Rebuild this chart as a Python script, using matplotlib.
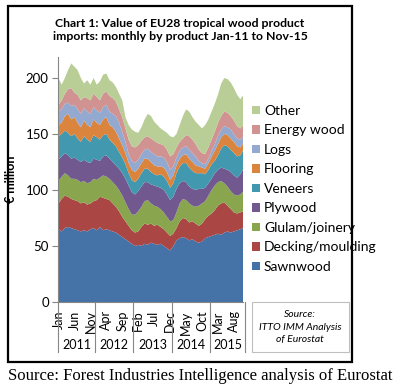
import matplotlib
matplotlib.use("Agg")
import matplotlib.pyplot as plt
from matplotlib.patches import Rectangle, Patch

plt.rcParams['font.family'] = ['Lato', 'DejaVu Sans']

# monthly values, EUR million, Jan 2011 .. Nov 2015
month_names = ['Jan', 'Feb', 'Mar', 'Apr', 'May', 'Jun', 'Jul', 'Aug', 'Sep', 'Oct', 'Nov', 'Dec']
years = ['2011', '2012', '2013', '2014', '2015']

sawnwood = [65, 63, 66, 67, 66, 65, 64, 63, 64, 63, 65, 66,
            64, 67, 64, 65, 64, 63, 62, 60, 58, 56, 54, 52,
            50, 51, 50, 52, 51, 53, 52, 51, 52, 50, 48, 46,
            50, 55, 57, 58, 57, 55, 56, 54, 53, 54, 57, 58,
            59, 60, 61, 60, 62, 63, 62, 63, 64, 65, 66]
decking = [23, 29, 29, 27, 26, 26, 26, 25, 25, 24, 23, 24,
           27, 27, 29, 27, 27, 25, 23, 21, 18, 16, 14, 12,
           12, 12, 17, 18, 18, 17, 16, 18, 15, 15, 14, 13,
           11, 11, 15, 17, 17, 16, 16, 16, 15, 16, 17, 19,
           20, 22, 25, 28, 27, 23, 21, 17, 15, 15, 15]
glulam = [20, 20, 20, 19, 18, 19, 19, 19, 19, 19, 19, 20,
          18, 17, 20, 20, 19, 19, 19, 19, 19, 17, 15, 14,
          16, 18, 18, 20, 22, 18, 18, 16, 16, 15, 14, 13,
          12, 14, 16, 17, 17, 17, 14, 15, 18, 18, 16, 18,
          21, 22, 21, 20, 17, 17, 16, 16, 16, 16, 18]
plywood = [19, 18, 18, 18, 18, 19, 18, 18, 19, 19, 17, 18,
           18, 15, 17, 19, 18, 18, 18, 19, 20, 21, 21, 20,
           18, 18, 18, 17, 16, 17, 18, 18, 19, 20, 20, 19,
           21, 21, 18, 16, 16, 15, 15, 15, 15, 13, 12, 11,
           10, 11, 11, 12, 13, 15, 17, 17, 16, 18, 20]
veneers = [21, 20, 20, 20, 20, 21, 19, 18, 21, 20, 19, 21,
           20, 19, 19, 19, 17, 17, 17, 15, 14, 13, 11, 11,
           11, 11, 12, 12, 12, 11, 10, 10, 12, 12, 12, 11,
           12, 14, 15, 16, 17, 17, 16, 15, 14, 14, 12, 12,
           13, 11, 13, 17, 21, 21, 20, 20, 19, 17, 17]
flooring = [10, 10, 13, 17, 15, 15, 14, 13, 14, 13, 13, 14,
            13, 13, 14, 15, 13, 14, 13, 12, 11, 10, 9, 9,
            9, 9, 9, 9, 9, 9, 8, 8, 7, 8, 8, 7,
            7, 7, 7, 7, 8, 8, 8, 7, 6, 5, 5, 6,
            7, 9, 10, 10, 10, 10, 10, 10, 9, 7, 6]
logs = [12, 12, 11, 10, 12, 11, 12, 12, 11, 12, 12, 11,
        11, 11, 11, 11, 12, 12, 14, 14, 12, 10, 8, 8,
        8, 8, 8, 8, 9, 9, 10, 9, 9, 9, 9, 9,
        8, 7, 7, 7, 7, 8, 8, 8, 5, 4, 4, 4,
        5, 6, 7, 7, 7, 7, 8, 7, 7, 7, 6]
energy_wood = [6, 8, 9, 12, 16, 11, 13, 12, 10, 12, 12, 12,
               12, 11, 12, 12, 14, 14, 13, 12, 13, 12, 13, 13,
               14, 13, 12, 11, 11, 12, 12, 12, 11, 11, 11, 12,
               11, 9, 8, 8, 10, 12, 12, 11, 10, 9, 9, 10,
               10, 11, 12, 12, 13, 13, 12, 12, 11, 10, 10]
other = [24, 14, 14, 17, 22, 23, 22, 20, 12, 16, 14, 14,
         11, 17, 17, 16, 14, 14, 13, 14, 15, 10, 13, 15,
         14, 11, 12, 16, 20, 20, 17, 16, 14, 13, 15, 18,
         15, 12, 15, 20, 23, 22, 20, 20, 22, 22, 26, 25,
         25, 25, 25, 29, 30, 30, 30, 29, 28, 26, 27]

labels = ['Sawnwood', 'Decking/moulding', 'Glulam/joinery', 'Plywood', 'Veneers',
          'Flooring', 'Logs', 'Energy wood', 'Other']
colors = ['#4572A7', '#AA4643', '#89A54E', '#71588F', '#4198AF',
          '#DB843D', '#93A9CF', '#D19392', '#B9CD96']

n = len(sawnwood)
x = list(range(n))
month_labels = [month_names[i % 12] for i in range(n)]

fig = plt.figure(figsize=(4.09, 3.91), dpi=100)
ax = fig.add_axes([0.143, 0.2276, 0.4523, 0.6274])

ax.stackplot(x, sawnwood, decking, glulam, plywood, veneers, flooring, logs,
             energy_wood, other, colors=colors, labels=labels, linewidth=0)

ax.set_xlim(0, n - 1)
ax.set_ylim(0, 219)
ax.set_yticks([0, 50, 100, 150, 200])
ax.tick_params(axis='y', labelsize=9.5, length=4, color='#868686', pad=3)
ax.set_xticks(x[::5])
ax.set_xticklabels(month_labels[::5], rotation=90, fontsize=9)
ax.tick_params(axis='x', length=0, pad=6)
for s in ['top', 'right']:
    ax.spines[s].set_visible(False)
for s in ['left', 'bottom']:
    ax.spines[s].set_color('#868686')
    ax.spines[s].set_linewidth(0.8)
ax.set_ylabel('€ million', fontsize=9, fontweight='bold', labelpad=6)

# year groups under the month labels
trans = ax.get_xaxis_transform()
bounds = [0, 11.5, 23.5, 35.5, 47.5, 58.5]
for b in bounds:
    ax.plot([b, b], [0, -0.205], transform=trans, color='#868686', lw=0.8, clip_on=False)
for i, yr in enumerate(years):
    ax.text((bounds[i] + bounds[i + 1]) / 2, -0.175, yr, transform=trans,
            ha='center', va='center', fontsize=9)

handles = [Patch(facecolor=c, edgecolor='none') for c in colors][::-1]
fig.legend(handles, labels[::-1], loc='upper left', bbox_to_anchor=(0.603, 0.746),
           frameon=False, fontsize=10, handlelength=0.55, handleheight=0.55,
           handletextpad=0.3, labelspacing=0.54, borderaxespad=0)

fig.suptitle('Chart 1: Value of EU28 tropical wood product\nimports: monthly by product Jan-11 to Nov-15',
             x=0.44, y=0.955, fontsize=8.8, fontweight='bold', linespacing=1.25)

# source box
fig.add_artist(Rectangle((252 / 409, 1 - 352 / 391), 97 / 409, 50 / 391,
                         transform=fig.transFigure, facecolor='white',
                         edgecolor='#BFBFBF', lw=0.8))
fig.text(300 / 409, 1 - 327 / 391, 'Source:\nITTO IMM Analysis\nof Eurostat',
         ha='center', va='center', fontsize=7.5, style='italic', linespacing=1.5)

# outer frame
fig.add_artist(Rectangle((8 / 409, 1 - 362 / 391), 344 / 409, 356 / 391,
                         transform=fig.transFigure, fill=False,
                         edgecolor='black', lw=1.6))

fig.text(8 / 409, 1 - 376 / 391, 'Source: Forest Industries Intelligence analysis of Eurostat',
         ha='left', va='center', fontsize=12, family='Liberation Serif')

fig.savefig('out.png', dpi=100)
